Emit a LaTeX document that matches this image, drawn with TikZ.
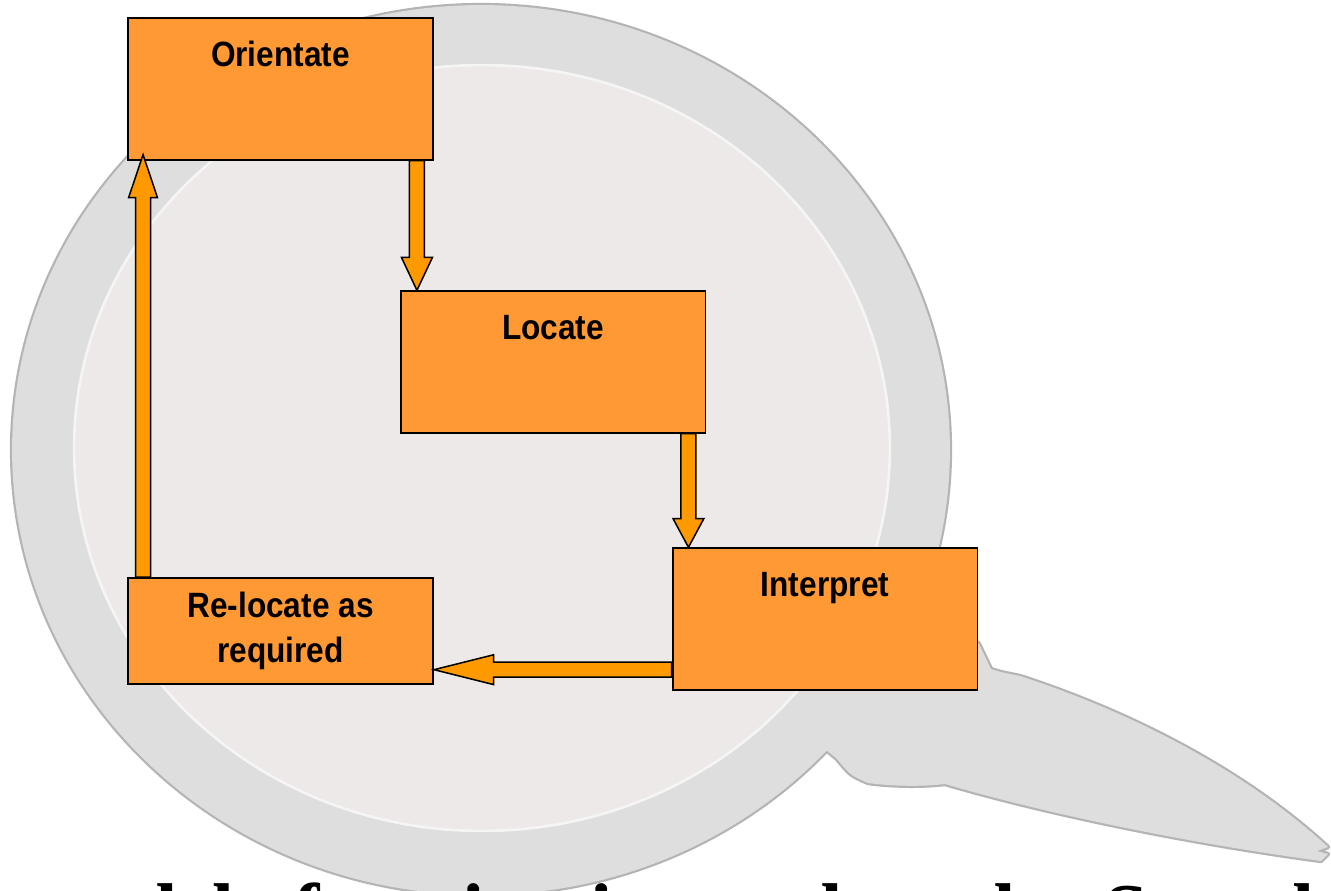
\documentclass[tikz,border=0pt]{standalone}
\usepackage{fontspec}
\setmainfont{Liberation Serif}
\newfontfamily\boxfont[FakeStretch=0.9]{Liberation Sans}
\usetikzlibrary{positioning,calc}

\definecolor{boxorange}{HTML}{FF9933}
\definecolor{arroworange}{HTML}{FF9900}
\definecolor{lensgray}{HTML}{DEDEDE}
\definecolor{lensrim}{HTML}{B4B4B4}
\definecolor{glassface}{HTML}{EDE9E8}

\begin{document}
\begin{tikzpicture}[x=0.02cm,y=-0.02cm,
    stage/.style={draw=black,line width=1.1pt,fill=boxorange,minimum width=6.1cm,
      inner xsep=0pt,inner ysep=0pt,font=\boxfont\bfseries\fontsize{20}{25.5}\selectfont},
    toplabel/.style={text height=27.4pt,text depth=53.1pt},
    rim/.style={draw=lensrim,fill=lensrim,line width=2.5pt,line join=round},
    lens/.style={fill=lensgray},
    blockflow/.style 2 args={draw=black,fill=arroworange,line width=0.85pt,
      to path={let \p1=(\tikztostart),\p2=(\tikztotarget),
        \n1={atan2(\y2-\y1,\x2-\x1)},\n2={veclen(\x2-\x1,\y2-\y1)} in
        {[shift={(\p1)},rotate=\n1]
          (0pt,-4.25pt) -- ({\n2*1pt-#1pt},-4.25pt) -- ({\n2*1pt-#1pt},-#2pt)
          -- ({\n2*1pt},0pt) -- ({\n2*1pt-#1pt},#2pt) -- ({\n2*1pt-#1pt},4.25pt)
          -- (0pt,4.25pt) -- cycle}}}]
    \useasboundingbox (0,0) rectangle (1331,891);
    \clip (0,0) rectangle (1331,891);
    \fill[white] (0,0) rectangle (1331,891);

    % magnifying glass behind the cycle
    \foreach \pass in {rim,lens} {
      \path[\pass] (481,450) ellipse [x radius=9.38cm, y radius=8.9cm];
      \path[\pass] (915,585) -- (979,644) -- (991,669) .. controls (1000,672) .. (1020,676)
        .. controls (1140,715) and (1250,775) .. (1328,847) -- (1317,851) -- (1328,854)
        -- (1321,861) .. controls (1180,842) and (1040,812) .. (945,784)
        .. controls (920,787) and (890,786) .. (868,783) .. controls (850,775) .. (837,759)
        -- (825,749) -- (800,700) -- cycle;
    }
    \path[fill=glassface,draw=white!96!black,line width=1.5pt] (482,448) ellipse [x radius=8.16cm, y radius=7.66cm];

    \node[stage,toplabel] (orient) at (280.5,89) {Orientate};
    \node[stage,toplabel] (locate) at (553,362) {Locate};
    \node[stage,toplabel] (interp) at (825,619) {Interpret};
    \node[stage,minimum height=2.12cm,align=center] (reloc) at (280.5,631) {Re-locate as\\required};

    % arrow feet
    \coordinate (o2l) at ($(orient.south east)+(-17,0)$);
    \coordinate (l2i) at ($(locate.south east)+(-18,0)$);
    \coordinate (i2r) at ($(interp.south west)+(0,-21)$);
    \coordinate (r2o) at ($(reloc.north west)+(16,0)$);

    \draw[blockflow={18.7}{8.8}] (o2l) to (o2l |- locate.north);
    \draw[blockflow={16.4}{8.8}] (l2i) to (l2i |- interp.north);
    \draw[blockflow={34}{8.5}] (i2r) to (i2r -| reloc.east);
    \draw[blockflow={24.4}{8.2}] (r2o) to ($(r2o |- orient.south)+(0,-6)$);

    \node[anchor=base west,font=\bfseries\fontsize{45}{50}\selectfont] (caption) at (-55,938)
      {A model of navigation and reader Search Navigation};
\end{tikzpicture}
\end{document}
